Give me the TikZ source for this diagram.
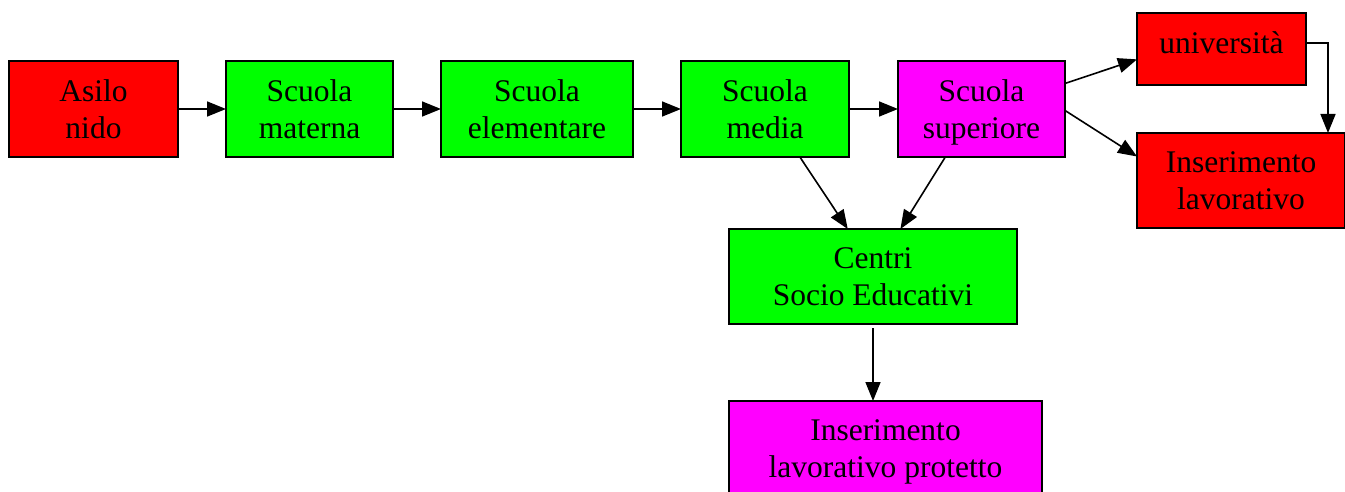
\documentclass[tikz,border=0pt]{standalone}
\usepackage{fontspec}
\setmainfont{Liberation Serif}
\usetikzlibrary{arrows.meta}
\definecolor{rosso}{RGB}{255,0,0}
\definecolor{verde}{RGB}{0,255,0}
\definecolor{viola}{RGB}{255,0,255}
\begin{document}
\begin{tikzpicture}[x=1pt,y=-1pt,
  box/.style={draw, line width=1.6pt, inner sep=0pt, outer sep=0pt, align=center,
    minimum height=96pt, text depth=0pt, font=\fontsize{31.5}{36.5}\selectfont},
  freccia/.style={line width=1.6pt, -{Triangle[length=19pt,width=15pt]}}]
\useasboundingbox (0,0) rectangle (1345,492);
\node[box, fill=rosso, minimum width=169pt] (asilo) at (93.5,109) {Asilo\\nido};
\node[box, fill=verde, minimum width=167pt] (materna) at (309.5,109) {Scuola\\materna};
\node[box, fill=verde, minimum width=192pt] (elementare) at (537,109) {Scuola\\elementare};
\node[box, fill=verde, minimum width=168pt] (media) at (765,109) {Scuola\\media};
\node[box, fill=viola, minimum width=167pt] (superiore) at (981.5,109) {Scuola\\superiore};
\node[box, fill=rosso, minimum width=169pt, minimum height=72pt, text depth=13pt] (universita) at (1221.5,49) {università};
\node[box, fill=rosso, minimum width=208pt, minimum height=95pt] (lavoro) at (1241,180.5) {Inserimento\\lavorativo};
\node[box, fill=verde, minimum width=288pt, minimum height=95pt] (centri) at (873,276.5) {Centri\\Socio Educativi};
\node[box, fill=viola, minimum width=313pt, minimum height=95pt] (protetto) at (885.5,448.5) {Inserimento\\lavorativo protetto};
\draw[freccia] (asilo) -- (materna);
\draw[freccia] (materna) -- (elementare);
\draw[freccia] (elementare) -- (media);
\draw[freccia] (media) -- (superiore);
\draw[freccia] (media.-54) -- (centri.118);
\draw[freccia] (superiore.-127) -- (centri.60);
\draw[freccia] (superiore.17) -- (universita.187);
\draw[freccia] (superiore.-1) -- (lavoro.167);
\draw[freccia] (universita.4) -| ([xshift=-17pt]lavoro.north east);
\draw[freccia] ([yshift=-4pt]centri.south) -- (centri.south |- protetto.north);
\end{tikzpicture}
\end{document}
